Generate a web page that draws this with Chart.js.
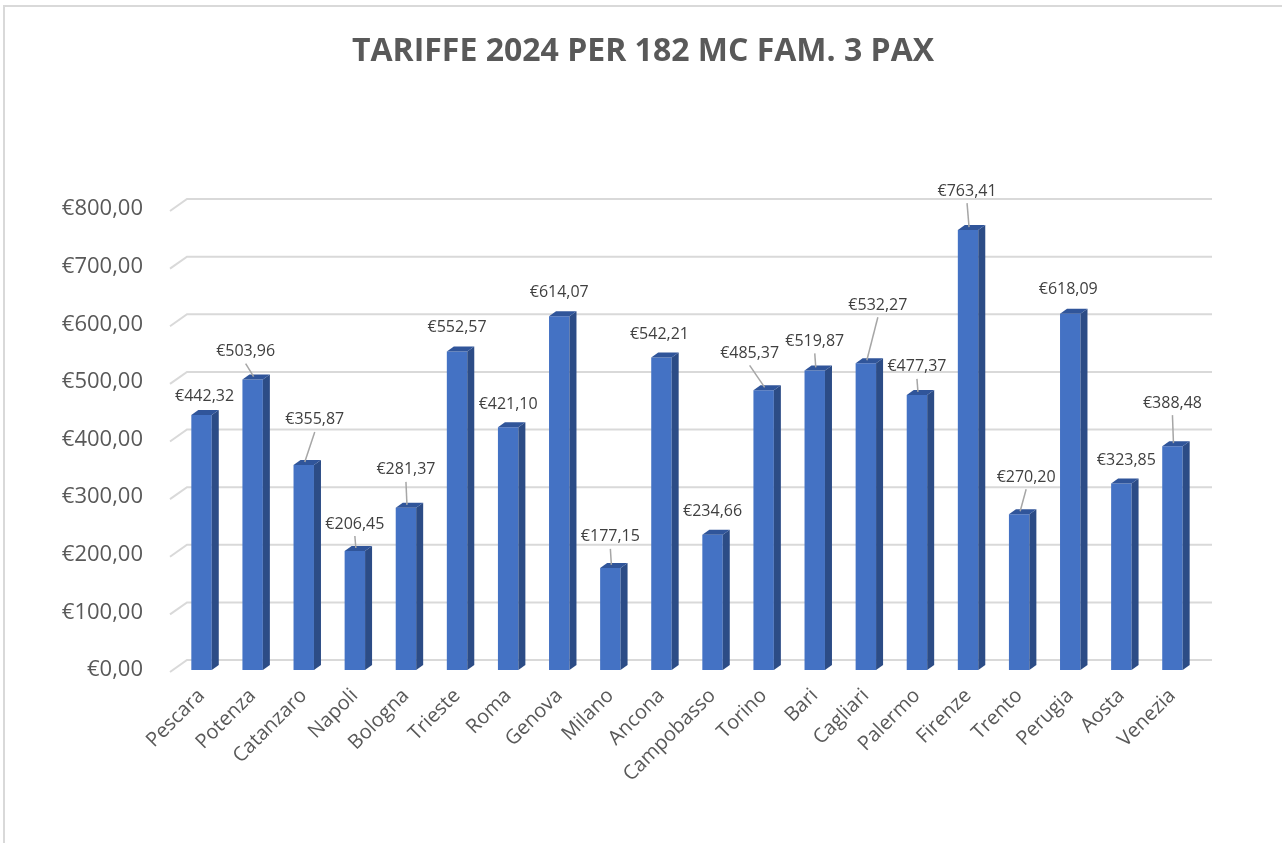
<!DOCTYPE html>
<html>
<head>
<meta charset="utf-8">
<script src="https://cdn.jsdelivr.net/npm/chart.js@4.4.1/dist/chart.umd.min.js"></script>
<style>
  body { margin: 0; background: #fff; }
  #wrap { width: 1282px; height: 843px; position: relative; }
</style>
</head>
<body>
<div id="wrap"><canvas id="tariffeChart"></canvas></div>
<script>
const chartTitle = "TARIFFE 2024 PER 182 MC FAM. 3 PAX";
const cities = [
  "Pescara", "Potenza", "Catanzaro", "Napoli", "Bologna", "Trieste", "Roma",
  "Genova", "Milano", "Ancona", "Campobasso", "Torino", "Bari", "Cagliari",
  "Palermo", "Firenze", "Trento", "Perugia", "Aosta", "Venezia"
];
const tariffe = [
  442.32, 503.96, 355.87, 206.45, 281.37, 552.57, 421.10,
  614.07, 177.15, 542.21, 234.66, 485.37, 519.87, 532.27,
  477.37, 763.41, 270.20, 618.09, 323.85, 388.48
];
const yTicks = [0, 100, 200, 300, 400, 500, 600, 700, 800];

// label offset from bar top (dx, dy) and whether Excel drew a leader line
const labelShift = [
  [3, -19, false], [-7, -28, true], [11, -45, true], [0, -27, true], [0, -38, true],
  [0, -24, false], [0, -23, false], [0, -24, false], [0, -31, true], [-2, -23, false],
  [0, -23, false], [-14, -37, true], [0, -29, true], [12, -58, true], [0, -28, true],
  [-1, -39, true], [7, -37, true], [-2, -24, false], [5, -23, false], [0, -43, true]
];

const euro = v => "€" + v.toFixed(2).replace(".", ",");

const depth = { dx: 7, dy: -5 };

const frame3d = {
  id: "frame3d",
  beforeDraw(chart) {
    const c = chart.ctx;
    c.save();
    c.fillStyle = "#fff";
    c.fillRect(0, 0, chart.width, chart.height);
    c.strokeStyle = "#d9d9d9";
    c.lineWidth = 2;
    c.beginPath();
    c.moveTo(4, chart.height);
    c.lineTo(4, 6);
    c.lineTo(chart.width, 6);
    c.stroke();
    // title
    c.font = "bold 32px 'Open Sans'";
    c.fillStyle = "#595959";
    c.textAlign = "center";
    c.textBaseline = "middle";
    c.fillText(chartTitle, 643, 52);
    c.restore();
  },
  beforeDatasetsDraw(chart) {
    const c = chart.ctx, y = chart.scales.y, a = chart.chartArea;
    c.save();
    c.strokeStyle = "#d9d9d9";
    c.lineWidth = 2;
    yTicks.forEach(v => {
      const yy = y.getPixelForValue(v);
      c.beginPath();
      c.moveTo(a.left - 6, yy + 2);
      c.lineTo(a.left + 11, yy - 10);
      c.lineTo(a.right + 14, yy - 10);
      c.stroke();
    });
    c.restore();
  },
  afterDatasetsDraw(chart) {
    const c = chart.ctx;
    const meta = chart.getDatasetMeta(0);
    c.save();
    meta.data.forEach((bar, i) => {
      const p = bar.getProps(["x", "y", "base", "width"], true);
      const l = p.x - p.width / 2, r = p.x + p.width / 2;
      // side face
      c.fillStyle = "#2c4c86";
      c.beginPath();
      c.moveTo(r, p.y);
      c.lineTo(r + depth.dx, p.y + depth.dy);
      c.lineTo(r + depth.dx, p.base + depth.dy);
      c.lineTo(r, p.base);
      c.closePath();
      c.fill();
      // top face
      c.fillStyle = "#30559a";
      c.beginPath();
      c.moveTo(l, p.y);
      c.lineTo(l + depth.dx, p.y + depth.dy);
      c.lineTo(r + depth.dx, p.y + depth.dy);
      c.lineTo(r, p.y);
      c.closePath();
      c.fill();
    });
    // data labels
    c.font = "16px 'Open Sans'";
    c.fillStyle = "#404040";
    c.textAlign = "center";
    c.textBaseline = "middle";
    meta.data.forEach((bar, i) => {
      const p = bar.getProps(["x", "y"], true);
      const [dx, dy, leader] = labelShift[i];
      const lx = p.x + dx, ly = p.y + dy;
      if (leader) {
        c.strokeStyle = "#a6a6a6";
        c.lineWidth = 1.5;
        c.beginPath();
        c.moveTo(lx, ly + 12);
        c.lineTo(p.x + 1, p.y - 3);
        c.stroke();
      }
      c.fillText(euro(tariffe[i]), lx, ly);
    });
    c.restore();
  }
};

const ctx = document.getElementById("tariffeChart").getContext("2d");
const chart = new Chart(ctx, {
  type: "bar",
  data: {
    labels: cities,
    datasets: [
      {
        label: "Tariffa",
        data: tariffe,
        backgroundColor: "#4472c4",
        borderWidth: 0,
        categoryPercentage: 1,
        barPercentage: 0.4,
      },
    ],
  },
  options: {
    responsive: true,
    maintainAspectRatio: false,
    animation: false,
    layout: { padding: { top: 209, right: 84, bottom: 0, left: 0 } },
    plugins: {
      legend: { display: false },
      tooltip: { enabled: false },
      title: { display: false },
    },
    scales: {
      x: {
        grid: { display: false },
        border: { display: false },
        ticks: {
          color: "#595959",
          font: { family: "'Open Sans'", size: 20 },
          minRotation: 45,
          maxRotation: 45,
          padding: 6,
        },
        afterFit(scale) { scale.height = 173; },
      },
      y: {
        min: 0,
        max: 800,
        grid: { display: false },
        border: { display: false },
        ticks: {
          stepSize: 100,
          color: "#595959",
          font: { family: "'Open Sans'", size: 22 },
          padding: 25,
          callback: v => euro(v),
        },
        afterFit(scale) { scale.width = 176; },
      },
    },
  },
  plugins: [frame3d],
});
</script>
</body>
</html>
